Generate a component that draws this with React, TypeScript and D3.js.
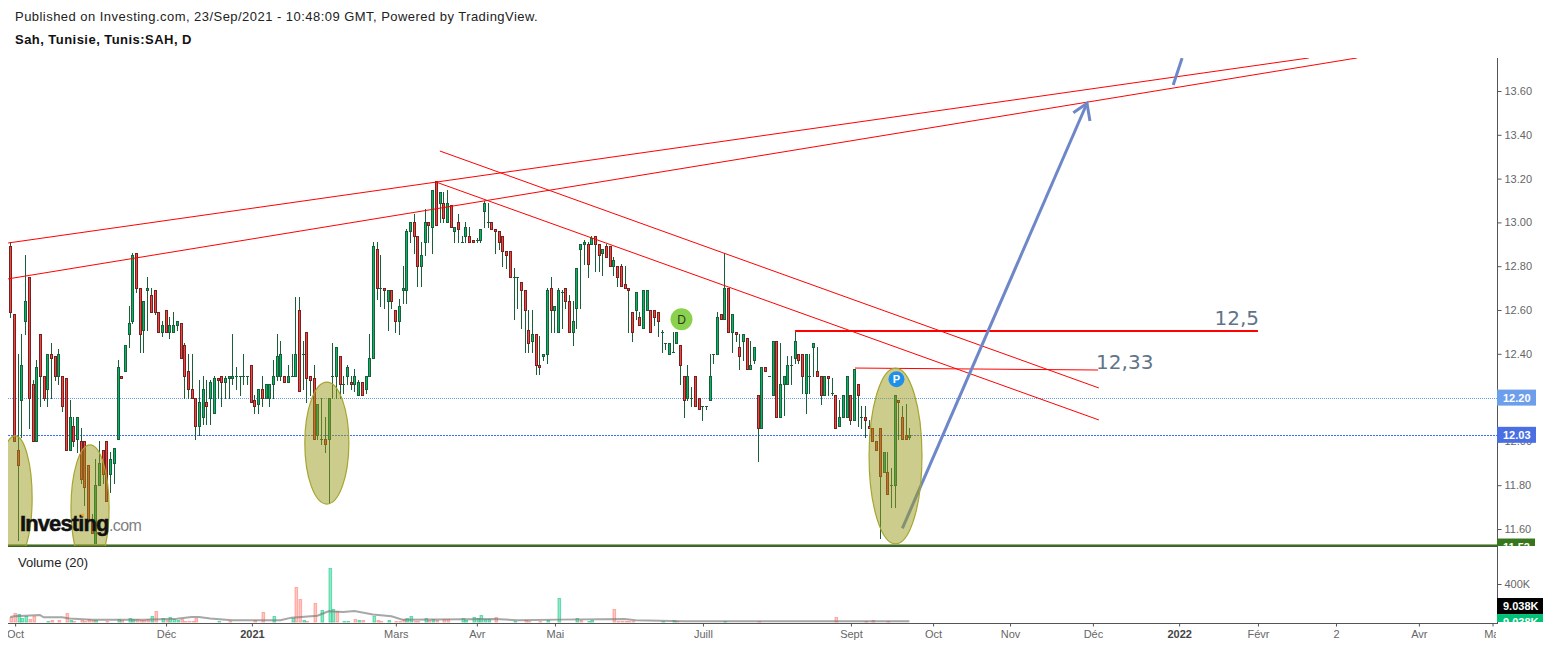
import { useEffect, useRef } from 'react';
import * as d3 from 'd3';

// [open, high, low, close], one list per stretch of the chart
const candlesAutumn: number[][] = [
  [12.89,12.91,12.57,12.59],[12.58,12.58,12.0,12.0],[11.96,12.4,11.55,11.89],[12.19,12.49,12.02,12.35],[12.55,12.85,12.49,12.64],
  [12.75,12.75,12.06,12.2],[12.26,12.28,12.0,12.0],[12.0,12.37,12.0,12.34],[12.49,12.49,12.16,12.3],[12.3,12.3,12.19,12.2],
  [12.24,12.4,12.16,12.4],[12.4,12.45,12.2,12.38],[12.39,12.39,12.28,12.3],[12.3,12.42,12.26,12.4],[12.3,12.3,12.14,12.16],
  [12.29,12.29,11.96,11.96],[11.96,12.19,11.96,12.11],[12.07,12.11,11.98,12.0],[12.01,12.11,11.95,12.11],[12.0,12.06,11.81,11.83],
  [12.0,12.0,11.71,11.79],[11.89,11.89,11.64,11.64],[11.63,11.67,11.58,11.58],[11.53,11.92,11.53,11.8],[11.8,12.0,11.8,11.9],
  [11.96,11.96,11.81,11.85],[12.0,12.0,11.73,11.73],[11.85,11.95,11.77,11.92],[11.9,11.97,11.81,11.97],[12.01,12.37,12.01,12.34],
  [12.3,12.3,12.29,12.29],[12.32,12.44,12.32,12.44],[12.49,12.62,12.43,12.54],[12.55,12.86,12.54,12.85],[12.86,12.86,12.68,12.7],
  [12.7,12.7,12.41,12.49],[12.51,12.64,12.41,12.64],[12.69,12.75,12.51,12.7],[12.67,12.7,12.59,12.59],[12.69,12.69,12.58,12.59],
  [12.59,12.59,12.5,12.5],[12.5,12.55,12.48,12.53],[12.6,12.6,12.5,12.5],[12.5,12.57,12.47,12.53],[12.5,12.59,12.5,12.53],
  [12.53,12.55,12.51,12.55],[12.54,12.54,12.38,12.38],[12.44,12.45,12.2,12.3],[12.32,12.4,12.2,12.24],[12.24,12.4,12.2,12.2],
  [12.2,12.2,12.01,12.07],[12.07,12.28,12.03,12.18],[12.11,12.3,12.08,12.24],[12.18,12.28,12.08,12.16],[12.2,12.28,12.08,12.27],
  [12.13,12.3,12.13,12.29],[12.29,12.29,12.2,12.28],[12.3,12.3,12.16,12.27],[12.27,12.3,12.2,12.29],[12.29,12.3,12.2,12.3],
  [12.29,12.49,12.26,12.3],[12.3,12.34,12.24,12.3],[12.3,12.3,12.21,12.3],[12.3,12.4,12.26,12.3],[12.3,12.3,12.26,12.3],
  [12.35,12.35,12.18,12.18],[12.19,12.21,12.13,12.16],[12.17,12.24,12.13,12.24],
];
const candlesWinter: number[][] = [
  [12.24,12.3,12.16,12.2],[12.2,12.26,12.2,12.26],[12.2,12.26,12.16,12.26],[12.26,12.37,12.2,12.3],[12.3,12.49,12.28,12.39],
  [12.3,12.46,12.28,12.4],[12.3,12.3,12.27,12.27],[12.27,12.35,12.27,12.3],[12.3,12.4,12.3,12.3],[12.3,12.66,12.3,12.4],
  [12.6,12.66,12.23,12.23],[12.4,12.46,12.24,12.4],[12.5,12.5,12.18,12.29],[12.3,12.3,12.21,12.28],[12.29,12.35,12.01,12.01],
  [12.03,12.17,12.01,12.17],[12.01,12.2,11.99,12.01],[12.01,12.11,11.95,11.99],[12.01,12.2,11.72,12.2],[12.3,12.45,12.2,12.3],
  [12.3,12.43,12.2,12.43],[12.39,12.39,12.2,12.26],[12.26,12.3,12.22,12.26],[12.3,12.35,12.26,12.34],[12.27,12.3,12.24,12.26],
  [12.26,12.33,12.23,12.3],[12.21,12.28,12.21,12.27],[12.27,12.27,12.21,12.21],[12.24,12.3,12.22,12.3],[12.3,12.49,12.3,12.38],
  [12.38,12.91,12.38,12.89],[12.88,12.91,12.65,12.7],[12.7,12.85,12.62,12.7],[12.7,12.7,12.61,12.69],[12.64,12.69,12.51,12.69],
  [12.69,12.69,12.61,12.64],[12.6,12.6,12.5,12.55],[12.55,12.65,12.49,12.62],[12.69,12.8,12.63,12.7],[12.69,12.97,12.63,12.96],
  [12.96,13.0,12.91,13.0],[13.0,13.04,12.86,12.94],[12.94,12.94,12.71,12.8],[12.8,12.91,12.71,12.85],[12.91,13.06,12.85,13.0],
  [13.0,13.0,12.91,12.99],[12.98,13.15,12.86,13.15],[13.19,13.19,12.99,12.99],[13.09,13.14,13.0,13.14],[13.09,13.14,13.0,13.02],
  [13.0,13.15,13.0,13.09],[13.08,13.08,12.98,12.98],[12.96,12.98,12.91,12.98],[13.0,13.04,12.91,12.97],[12.91,12.94,12.91,12.91],
  [12.94,13.0,12.91,12.98],[12.94,12.98,12.91,12.91],[12.92,12.92,12.91,12.91],[12.92,12.93,12.91,12.92],[12.92,12.97,12.91,12.97],
  [13.05,13.1,12.98,13.09],[13.0,13.09,12.98,13.0],[13.0,13.0,12.97,12.97],[12.97,12.97,12.86,12.96],[12.96,12.96,12.88,12.91],
  [12.94,12.94,12.8,12.87],[12.87,12.87,12.79,12.85],[12.87,12.87,12.75,12.75],
];
const candlesSpring: number[][] = [
  [12.75,12.79,12.56,12.75],[12.75,12.75,12.61,12.75],[12.73,12.73,12.52,12.69],[12.69,12.69,12.41,12.6],[12.51,12.6,12.41,12.45],
  [12.46,12.6,12.41,12.49],[12.49,12.49,12.31,12.35],[12.35,12.48,12.31,12.34],[12.39,12.4,12.37,12.4],[12.4,12.7,12.36,12.69],
  [12.7,12.75,12.5,12.6],[12.6,12.62,12.5,12.62],[12.5,12.7,12.5,12.69],[12.68,12.69,12.52,12.68],[12.7,12.7,12.61,12.64],
  [12.64,12.67,12.5,12.5],[12.5,12.64,12.44,12.55],[12.61,12.79,12.52,12.79],[12.88,12.9,12.61,12.9],[12.9,12.92,12.81,12.91],
  [12.9,12.91,12.75,12.81],[12.9,12.94,12.9,12.93],[12.94,12.94,12.78,12.9],[12.9,12.9,12.78,12.85],[12.86,12.88,12.76,12.88],
  [12.89,12.9,12.84,12.84],[12.89,12.89,12.8,12.8],[12.8,12.84,12.76,12.83],[12.8,12.8,12.71,12.75],[12.8,12.81,12.71,12.71],
  [12.72,12.8,12.7,12.7],[12.7,12.7,12.5,12.69],[12.59,12.59,12.46,12.5],[12.6,12.68,12.56,12.68],[12.57,12.59,12.53,12.53],
  [12.52,12.69,12.52,12.69],[12.6,12.69,12.6,12.69],[12.6,12.6,12.5,12.5],[12.6,12.6,12.53,12.57],[12.59,12.59,12.48,12.55],
  [12.5,12.51,12.41,12.5],[12.45,12.45,12.42,12.45],[12.4,12.45,12.4,12.45],[12.41,12.5,12.41,12.41],[12.45,12.5,12.45,12.5],
  [12.44,12.44,12.26,12.35],[12.3,12.3,12.11,12.19],[12.2,12.35,12.19,12.3],[12.2,12.25,12.16,12.2],[12.3,12.3,12.16,12.16],
  [12.2,12.2,12.15,12.15],[12.16,12.16,12.1,12.16],[12.16,12.16,12.15,12.16],[12.19,12.4,12.19,12.3],[12.4,12.4,12.36,12.4],
  [12.4,12.59,12.4,12.57],[12.58,12.58,12.56,12.56],[12.56,12.86,12.56,12.7],[12.7,12.7,12.5,12.5],[12.5,12.58,12.41,12.58],
  [12.5,12.5,12.46,12.49],
];
const candlesSummer: number[][] = [
  [12.43,12.49,12.33,12.39],[12.46,12.49,12.37,12.49],[12.47,12.47,12.33,12.33],[12.33,12.46,12.33,12.35],[12.37,12.43,12.36,12.43],
  [12.21,12.21,11.91,12.06],[12.06,12.34,12.06,12.34],[12.34,12.34,12.32,12.32],[12.3,12.3,12.3,12.3],[12.21,12.46,12.21,12.46],
  [12.46,12.46,12.11,12.11],[12.11,12.45,12.11,12.26],[12.26,12.3,12.12,12.3],[12.26,12.39,12.26,12.35],[12.35,12.39,12.26,12.35],
  [12.38,12.5,12.36,12.46],[12.4,12.4,12.36,12.37],[12.4,12.4,12.22,12.3],[12.22,12.4,12.13,12.4],[12.3,12.4,12.22,12.3],
  [12.43,12.45,12.3,12.45],[12.32,12.43,12.3,12.3],[12.3,12.3,12.17,12.21],[12.21,12.3,12.21,12.3],[12.3,12.3,12.21,12.29],
  [12.22,12.29,12.21,12.22],[12.21,12.21,12.06,12.06],[12.07,12.19,12.07,12.11],[12.11,12.21,12.11,12.21],[12.11,12.3,12.11,12.3],
  [12.21,12.21,12.08,12.1],[12.1,12.33,12.1,12.33],[12.26,12.26,12.07,12.21],[12.11,12.16,12.06,12.11],[12.11,12.16,12.02,12.1],
  [12.07,12.1,12.06,12.06],[12.06,12.06,12.0,12.0],[12.0,12.0,11.96,11.96],[12.06,12.06,11.56,11.84],[11.86,11.95,11.86,11.95],
  [11.86,11.95,11.76,11.76],[11.8,11.88,11.7,11.8],[11.8,12.21,11.7,12.21],[12.19,12.19,12.01,12.18],[12.11,12.16,12.01,12.01],
  [12.03,12.17,12.01,12.01],[12.02,12.06,12.01,12.03],
];
const candles = [...candlesAutumn, ...candlesWinter, ...candlesSpring, ...candlesSummer];

// volume in thousands: [bar, volume]
const volumeDown: number[][] = [
  [0,52],[1,98],[5,35],[6,66],[11,18],[13,18],[15,98],[17,7],[19,18],[20,10],[21,28],[22,18],[26,7],[30,18],[34,28],[35,18],[36,18],[37,28],
  [39,119],[42,18],[46,28],[47,10],[48,7],[49,7],[50,46],[59,7],[66,25],[68,108],[77,371],[78,245],[80,7],[82,203],[88,115],[93,28],[95,18],
  [99,18],[100,7],[104,7],[105,7],[106,28],[109,10],[110,7],[113,18],[115,18],[117,35],[118,28],[131,56],[139,18],[140,10],[143,10],[154,18],
  [163,140],[164,7],[165,7],[166,7],[167,7],[168,7],[180,10],[202,7],[223,56],[231,7],[233,18],[237,7],
];
const volumeUp: number[][] = [
  [2,88],[3,46],[4,60],[10,7],[16,18],[23,18],[29,35],[32,46],[33,35],[38,60],[41,46],[43,56],[44,28],[45,18],[56,7],[71,66],[76,46],[79,18],
  [84,130],[86,570],[87,140],[90,7],[91,7],[94,18],[98,66],[102,18],[107,46],[108,66],[112,46],[114,28],[122,46],[123,18],[125,56],[126,46],
  [127,77],[128,28],[129,28],[136,7],[145,18],[148,255],[153,46],[156,7],[157,18],[176,10],[179,18],[193,7],
];
const volumeAverage: number[][] = [
  [0,52],[1,60],[4,66],[8,74],[9,49],[14,49],[16,38],[22,25],[28,25],[36,25],[45,35],[49,52],[51,52],[54,38],[60,18],[73,18],[76,46],[83,66],
  [86,112],[90,105],[93,115],[98,80],[103,60],[106,25],[131,32],[137,18],[148,25],[166,32],[169,18],[182,7],[213,7],[243,7],
];

const priceTicks = [13.6, 13.4, 13.2, 13.0, 12.8, 12.6, 12.4, 12.2, 12.0, 11.8, 11.6];
const timeTickBars = [1.3, 42.1, 65.3, 104.2, 126.1, 147.2, 187.2, 227.2, 249.4, 270.2, 292.6, 315.9, 337.2, 358.3, 380.7, 400.6];
const timeTickLabels = ['Oct', 'Déc', '2021', 'Mars', 'Avr', 'Mai', 'Juill', 'Sept', 'Oct', 'Nov', 'Déc', '2022', 'Févr', '2', 'Avr', 'Mai'];

// drawings, in [bar, price]
const risingLines = [
  [[-0.6, 12.906], [351, 13.751]],
  [[-0.6, 12.742], [364, 13.751]],
];
const fallingLines = [
  [[116.1, 13.326], [294.2, 12.244]],
  [[115.1, 13.184], [294.2, 12.098]],
];
const level1233 = [[228.3, 12.335], [294, 12.326]];
const level125 = [[212.1, 12.504], [337.2, 12.504]];
const arrowShaft = [[241.1, 11.603], [291, 13.544]];
const arrowHead = [[287.3, 13.501], [291, 13.544], [291.8, 13.463]];
const blueTick = [[314.3, 13.627], [316.7, 13.75]];
// bar left, bar right, price top, price bottom
const ellipses = [
  [-3.3, 5.9, 12.025, 11.458],
  [16.4, 26.7, 11.984, 11.408],
  [79.6, 91.5, 12.271, 11.714],
  [232.1, 246.4, 12.335, 11.532],
];

const PANE_LEFT = 8;
const PANE_TOP = 58;
const PANE_BOTTOM = 546;
const AXIS_X = 1497;
const VOL_BOTTOM = 623;
const SANS = '"Liberation Sans", Arial, sans-serif';

export default function App() {
  const svgRef = useRef<SVGSVGElement>(null);

  useEffect(() => {
    const svg = d3.select(svgRef.current);
    svg.selectAll('*').remove();

    const x = d3.scaleLinear().domain([0, 243]).range([10.3, 909.4]);
    const y = d3.scaleLinear().domain([11.6, 13.6]).range([529, 91]);
    const volY = d3.scaleLinear().domain([0, 400]).range([622, 584]);

    const defs = svg.append('defs');
    defs.append('clipPath').attr('id', 'pricePane').append('rect')
      .attr('x', PANE_LEFT).attr('y', PANE_TOP).attr('width', AXIS_X - PANE_LEFT).attr('height', PANE_BOTTOM - PANE_TOP);
    defs.append('clipPath').attr('id', 'priceScale').append('rect')
      .attr('x', AXIS_X).attr('y', PANE_TOP).attr('width', 60).attr('height', PANE_BOTTOM - PANE_TOP);
    defs.append('clipPath').attr('id', 'volScale').append('rect')
      .attr('x', AXIS_X).attr('y', 547).attr('width', 60).attr('height', 75);
    defs.append('clipPath').attr('id', 'timeScale').append('rect')
      .attr('x', PANE_LEFT).attr('y', VOL_BOTTOM).attr('width', AXIS_X - PANE_LEFT - 1).attr('height', 24);

    // Header
    svg.append('text').attr('x', 15).attr('y', 21).attr('font-family', SANS).attr('font-size', 13).attr('letter-spacing', 0.46).attr('fill', '#222')
      .text('Published on Investing.com, 23/Sep/2021 - 10:48:09 GMT, Powered by TradingView.');
    svg.append('text').attr('x', 15).attr('y', 44).attr('font-family', SANS).attr('font-size', 13).attr('letter-spacing', 0.46).attr('font-weight', 700).attr('fill', '#111')
      .text('Sah, Tunisie, Tunis:SAH, D');

    const pane = svg.append('g').attr('clip-path', 'url(#pricePane)');

    // Last price lines
    [[12.2, '#6d9eeb', '1,1'], [12.03, '#3c6cf5', '2,1']].forEach(([p, color, dash]) => {
      const ly = Math.round(y(p as number)) + 0.5;
      pane.append('line').attr('x1', PANE_LEFT).attr('x2', AXIS_X).attr('y1', ly).attr('y2', ly)
        .attr('stroke', color as string).attr('stroke-dasharray', dash as string);
    });

    // Candles
    candles.forEach(([o, h, l, c], i) => {
      const cx = Math.round(x(i));
      const top = Math.round(y(Math.max(o, c)));
      const bottom = Math.round(y(Math.min(o, c)));
      const up = c >= o;
      pane.append('line').attr('x1', cx + 0.5).attr('x2', cx + 0.5)
        .attr('y1', Math.round(y(h))).attr('y2', Math.round(y(l)) + 1)
        .attr('stroke', '#1b5e3a');
      if (bottom - top < 1) {
        pane.append('line').attr('x1', cx - 1).attr('x2', cx + 2).attr('y1', top + 0.5).attr('y2', top + 0.5)
          .attr('stroke', up ? '#1b5e3a' : '#7a1f1f');
      } else {
        pane.append('rect').attr('x', cx - 0.5).attr('y', top + 0.5).attr('width', 2).attr('height', bottom - top)
          .attr('fill', up ? '#00b865' : '#f0483e').attr('stroke', up ? '#1b5e3a' : '#7a1f1f');
      }
    });

    const segment = d3.line<number[]>().x((d) => x(d[0])).y((d) => y(d[1]));

    // Bottom support line
    const supportY = y(11.52);
    pane.append('line').attr('x1', PANE_LEFT).attr('x2', AXIS_X).attr('y1', supportY - 2).attr('y2', supportY - 2)
      .attr('stroke', '#8fb07a').attr('stroke-width', 1);
    pane.append('line').attr('x1', PANE_LEFT).attr('x2', AXIS_X).attr('y1', supportY - 1).attr('y2', supportY - 1)
      .attr('stroke', '#3f6a2c').attr('stroke-width', 1);

    // Red drawings
    [...risingLines, ...fallingLines, level1233].forEach((pts) => {
      pane.append('path').attr('d', segment(pts)).attr('fill', 'none').attr('stroke', '#ff0000').attr('stroke-width', 1);
    });
    pane.append('path').attr('d', segment(level125)).attr('fill', 'none').attr('stroke', '#ff0000').attr('stroke-width', 2);

    // Blue arrow
    [arrowShaft, arrowHead, blueTick].forEach((pts) => {
      pane.append('path').attr('d', segment(pts)).attr('fill', 'none')
        .attr('stroke', '#6d87c9').attr('stroke-width', 3).attr('stroke-linejoin', 'miter');
    });

    // Highlight ellipses
    ellipses.forEach(([b0, b1, pTop, pBottom]) => {
      pane.append('ellipse')
        .attr('cx', (x(b0) + x(b1)) / 2).attr('cy', (y(pTop) + y(pBottom)) / 2)
        .attr('rx', (x(b1) - x(b0)) / 2).attr('ry', (y(pBottom) - y(pTop)) / 2)
        .attr('fill', 'rgba(153,153,26,0.5)').attr('stroke', '#a5a530').attr('stroke-width', 1.2);
    });

    // Drawing captions
    [['12,5', level125[1], -43.5, -6], ['12,33', level1233[1], -2, -1]].forEach(([label, pt, dx, dy]) => {
      const [b, p] = pt as number[];
      pane.append('text').attr('x', x(b) + (dx as number)).attr('y', y(p) + (dy as number))
        .attr('font-family', '"DejaVu Sans", sans-serif').attr('font-size', 20).attr('fill', '#5f7488')
        .text(label as string);
    });

    // Dividend / earnings markers
    pane.append('circle').attr('cx', x(181.4)).attr('cy', y(12.558)).attr('r', 11).attr('fill', '#8ad24e');
    pane.append('text').attr('x', x(181.4)).attr('y', y(12.558) + 4.5).attr('text-anchor', 'middle')
      .attr('font-family', SANS).attr('font-size', 12).attr('fill', '#2c3a1c').text('D');
    pane.append('circle').attr('cx', x(239.5)).attr('cy', y(12.284)).attr('r', 8).attr('fill', '#1e90ea');
    pane.append('text').attr('x', x(239.5)).attr('y', y(12.284) + 4).attr('text-anchor', 'middle')
      .attr('font-family', SANS).attr('font-size', 11).attr('font-weight', 700).attr('fill', '#fff').text('P');

    // Logo
    const logo = svg.append('g').attr('font-family', SANS);
    logo.append('text').attr('x', 20).attr('y', 531).attr('font-size', 22).attr('font-weight', 700).attr('letter-spacing', -0.9)
      .attr('fill', '#111').attr('stroke', '#111').attr('stroke-width', 0.5).text('Investing');
    logo.append('text').attr('x', 109).attr('y', 531).attr('font-size', 16).attr('letter-spacing', -0.6).attr('fill', '#7f7f7f').text('.com');
    logo.append('circle').attr('cx', 82.7).attr('cy', 515).attr('r', 1.6).attr('fill', '#f5a623');

    // Pane frame
    svg.append('line').attr('x1', PANE_LEFT).attr('x2', AXIS_X).attr('y1', PANE_BOTTOM + 0.5).attr('y2', PANE_BOTTOM + 0.5).attr('stroke', '#3f5c2f');

    // Volume
    svg.append('text').attr('x', 18).attr('y', 567).attr('font-family', SANS).attr('font-size', 13).attr('fill', '#222').text('Volume (20)');
    const volume = svg.append('g');
    const drawVolume = (rows: number[][], fill: string, stroke: string) => {
      rows.forEach(([bar, v]) => {
        const vx = Math.round(x(bar)) + 1;
        const vy = Math.round(volY(v));
        volume.append('rect').attr('x', vx - 1).attr('y', vy + 0.5).attr('width', 2.6).attr('height', Math.max(volY(0) - vy - 0.5, 0.5))
          .attr('fill', fill).attr('stroke', stroke).attr('stroke-width', 1);
      });
    };
    drawVolume(volumeDown, 'rgba(255,120,110,0.42)', 'rgba(255,120,110,0.55)');
    drawVolume(volumeUp, 'rgba(0,200,125,0.42)', 'rgba(0,200,125,0.55)');
    volume.append('path')
      .attr('d', d3.line<number[]>().x((d) => x(d[0])).y((d) => volY(d[1]))(volumeAverage))
      .attr('fill', 'none').attr('stroke', 'rgba(120,120,120,0.65)').attr('stroke-width', 2);

    // Price scale
    const priceAxis = svg.append('g').attr('transform', `translate(${AXIS_X + 0.5},0)`)
      .call(d3.axisRight(y).tickValues(priceTicks).tickSize(4).tickPadding(3).tickFormat(d3.format('.2f') as any));
    const volumeAxis = svg.append('g').attr('transform', `translate(${AXIS_X + 0.5},0)`)
      .call(d3.axisRight(volY).tickValues([400]).tickSize(4).tickPadding(3).tickFormat((d) => `${d}K`));
    const timeAxis = svg.append('g').attr('clip-path', 'url(#timeScale)')
      .append('g').attr('transform', `translate(0,${VOL_BOTTOM + 0.5})`)
      .call(d3.axisBottom(x).tickValues(timeTickBars).tickSize(3).tickPadding(4)
        .tickFormat((_, i) => timeTickLabels[i]));
    [priceAxis, volumeAxis, timeAxis].forEach((axis) => {
      axis.select('.domain').remove();
      axis.selectAll('text').attr('font-family', SANS).attr('font-size', 11).attr('fill', '#666');
      axis.selectAll('line').attr('stroke', '#555');
    });
    timeAxis.selectAll('text')
      .attr('font-weight', (_, i) => (timeTickLabels[i].startsWith('20') ? 700 : 400))
      .attr('fill', (_, i) => (timeTickLabels[i].startsWith('20') ? '#444' : '#666'));

    svg.append('line').attr('x1', AXIS_X + 0.5).attr('x2', AXIS_X + 0.5).attr('y1', PANE_TOP).attr('y2', VOL_BOTTOM + 1).attr('stroke', '#555');
    svg.append('line').attr('x1', PANE_LEFT).attr('x2', AXIS_X).attr('y1', VOL_BOTTOM + 0.5).attr('y2', VOL_BOTTOM + 0.5).attr('stroke', '#555');

    // Scale badges
    const badge = (clip: string, cy: number, width: number, fill: string, label: string) => {
      const g = svg.append('g').attr('clip-path', `url(#${clip})`);
      g.append('rect').attr('x', AXIS_X).attr('y', cy - 8).attr('width', width).attr('height', 16).attr('fill', fill);
      g.append('text').attr('x', AXIS_X + 6).attr('y', cy + 4).attr('font-family', SANS).attr('font-size', 11)
        .attr('font-weight', 700).attr('fill', '#fff').text(label);
    };
    badge('priceScale', y(11.52), 38, '#38761d', '11.52');
    badge('priceScale', y(12.2), 39, '#6d9eeb', '12.20');
    badge('priceScale', y(12.03), 39, '#4a6fe3', '12.03');
    badge('volScale', volY(9.038) + 0.9, 46, '#00c176', '9.038K');
    badge('volScale', 606, 46, '#000000', '9.038K');
  }, []);

  return (
    <svg
      ref={svgRef}
      width={1550}
      height={647}
      style={{ position: 'absolute', left: 0, top: 0, display: 'block', background: '#fff' }}
    />
  );
}
